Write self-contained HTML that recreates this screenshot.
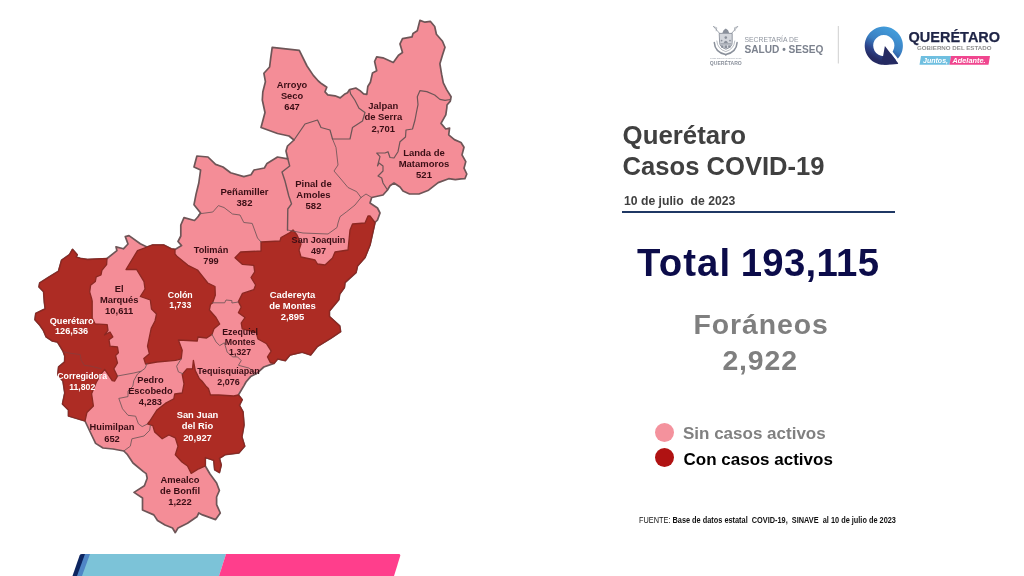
<!DOCTYPE html>
<html lang="es">
<head>
<meta charset="utf-8">
<title>Querétaro Casos COVID-19</title>
<style>
html,body{margin:0;padding:0;background:#fff;}
body{width:1024px;height:576px;position:relative;overflow:hidden;font-family:"Liberation Sans",Arial,sans-serif;}
.map{position:absolute;left:0;top:0;}
.abs{position:absolute;white-space:nowrap;line-height:1;}
.t1{left:622.6px;top:122.8px;font-size:25.8px;font-weight:bold;color:#404040;}
.t2{left:622.6px;top:154.2px;font-size:25.6px;font-weight:bold;color:#404040;}
.date{left:624px;top:195.4px;font-size:12.2px;font-weight:bold;color:#404040;}
.date i{display:inline-block;width:3.6px;}
.rule{position:absolute;left:622px;top:210.5px;width:273px;height:2px;background:#1f3864;}
.total{left:637px;top:244px;font-size:38.3px;font-weight:bold;color:#0c0c4a;word-spacing:-1.5px;letter-spacing:0.35px;}
.for1{left:693.6px;top:310.4px;font-size:28.4px;font-weight:bold;color:#7f7f7f;letter-spacing:0.9px;}
.for2{left:722.4px;top:346px;font-size:28.4px;font-weight:bold;color:#7f7f7f;letter-spacing:0.9px;}
.dot{position:absolute;width:19.4px;height:19.4px;border-radius:50%;}
.d1{left:655px;top:422.5px;background:#f4929d;}
.d2{left:655px;top:447.5px;background:#b01212;}
.l1{left:683px;top:424.5px;font-size:17px;font-weight:bold;color:#808080;}
.l2{left:683.6px;top:451px;font-size:17px;font-weight:bold;color:#000;}
.src{left:638.5px;top:516px;font-size:8.4px;font-weight:bold;color:#111;transform:scaleX(0.878);transform-origin:0 0;}
.src span{font-weight:normal;}
</style>
</head>
<body>
<svg class="map" width="1024" height="576" viewBox="0 0 1024 576">
<polygon points="272.2,47.3 299.3,50.4 307.0,66.0 313.3,75.4 318.3,81.0 321.7,83.8 326.8,87.2 325.0,91.8 327.8,94.8 335.0,95.8 340.2,97.9 344.4,94.3 347.5,92.7 349.6,89.6 355.8,88.0 360.0,90.6 363.6,93.8 366.8,94.3 367.8,86.5 370.4,82.3 372.5,72.9 376.7,70.8 374.6,61.5 376.7,56.8 382.9,57.8 393.3,62.5 398.5,55.2 402.5,52.5 400.0,43.9 402.5,38.6 412.0,36.9 413.0,33.4 417.3,30.8 419.9,20.4 425.0,22.2 430.3,21.3 434.7,26.5 436.4,34.3 442.5,41.2 445.0,47.3 442.5,55.1 439.9,63.8 441.6,74.2 443.3,82.9 446.8,89.9 451.1,96.8 450.3,101.1 447.0,105.0 446.8,108.0 445.8,114.8 441.0,123.4 445.8,129.0 449.6,128.0 448.7,134.8 454.4,139.6 461.0,142.5 464.0,147.2 462.0,154.9 465.8,161.6 464.0,168.2 466.8,174.0 464.9,178.7 461.0,178.9 455.3,179.7 448.7,178.7 438.2,182.6 428.6,190.2 419.0,194.0 409.5,194.0 403.0,191.0 400.0,187.0 394.0,183.0 390.0,185.8 387.5,190.0 383.0,195.0 371.7,197.5 370.0,203.0 377.5,208.0 380.0,213.0 377.5,220.0 375.0,222.5 370.0,245.0 365.0,257.5 357.5,266.0 356.0,272.5 345.0,282.5 344.4,287.5 339.7,294.0 338.8,299.7 329.4,311.0 329.4,316.6 339.7,326.0 340.6,331.6 331.2,338.0 317.2,346.6 310.6,355.0 302.2,352.2 290.0,355.0 285.3,360.6 277.8,358.8 274.0,363.4 263.8,367.0 256.2,373.8 250.6,376.6 246.0,382.0 244.0,385.6 238.4,395.0 242.2,399.7 239.4,405.3 243.0,411.9 244.0,425.0 241.9,436.9 244.7,446.2 239.0,452.8 225.0,454.7 219.4,458.4 221.2,465.0 219.4,472.5 214.7,469.7 213.8,460.3 205.3,457.5 205.3,466.0 210.0,474.0 216.6,483.0 219.4,490.5 216.6,497.0 216.6,504.6 220.3,513.0 215.6,519.6 202.5,514.9 198.8,513.0 196.9,516.8 187.5,523.3 178.0,528.0 175.3,532.7 172.5,528.0 165.0,525.0 157.5,520.5 153.8,514.9 142.5,510.0 142.5,498.0 134.0,492.4 144.4,485.8 147.2,478.3 146.2,473.6 143.4,471.6 133.0,463.0 127.5,454.7 123.8,451.0 113.0,449.0 103.0,448.0 95.6,443.4 91.6,435.0 85.0,421.0 68.5,416.0 68.5,410.0 62.5,404.0 64.8,393.0 63.0,381.0 57.8,375.0 58.6,367.0 64.6,362.0 64.8,356.0 63.0,351.0 57.5,342.0 52.0,340.8 46.2,336.9 43.4,330.3 39.7,325.0 35.0,319.7 35.8,313.4 45.2,308.8 44.4,302.5 43.6,291.6 39.0,286.9 39.7,283.0 48.3,277.5 58.5,271.2 61.6,260.3 69.4,254.8 72.5,249.4 77.2,254.8 76.0,257.0 80.3,258.3 87.4,259.5 107.0,258.5 116.9,250.6 116.0,246.9 123.4,248.8 128.0,244.0 125.3,236.6 129.0,235.6 140.3,243.8 147.0,247.0 152.5,245.0 163.8,245.0 171.2,248.8 175.0,249.4 181.6,245.6 178.0,241.5 180.8,236.0 180.8,225.0 184.0,217.6 194.5,220.5 197.8,217.0 200.6,213.0 194.0,204.7 196.0,194.4 198.8,183.0 200.6,170.0 194.0,167.0 196.9,156.0 208.0,157.0 215.6,164.4 223.0,167.0 230.6,172.8 243.8,176.6 251.0,174.7 254.0,170.0 264.4,168.0 267.0,163.4 277.5,157.0 287.8,158.8 286.0,151.0 287.5,146.0 294.0,140.0 289.0,136.0 277.5,133.5 261.0,127.5 265.0,112.5 262.3,100.0 262.8,92.0 265.4,81.7 263.9,73.3 269.6,67.0 270.6,58.8" fill="#f48d97" stroke="#6e5557" stroke-width="1.7" stroke-linejoin="round"/>
<polygon points="85.0,421.0 68.5,416.0 68.5,410.0 62.5,404.0 64.8,393.0 63.0,381.0 57.8,375.0 58.6,367.0 64.6,362.0 64.8,356.0 63.0,351.0 57.5,342.0 52.0,340.8 46.2,336.9 43.4,330.3 39.7,325.0 35.0,319.7 35.8,313.4 45.2,308.8 44.4,302.5 43.6,291.6 39.0,286.9 39.7,283.0 48.3,277.5 58.5,271.2 61.6,260.3 69.4,254.8 72.5,249.4 77.2,254.8 76.0,257.0 80.3,258.3 87.4,259.5 107.0,258.5 106.6,264.7 101.9,270.3 101.0,275.0 96.2,276.9 95.3,281.6 90.6,285.3 89.7,291.9 91.6,298.4 92.2,301.2 92.2,318.0 95.0,323.8 107.2,324.7 108.0,330.3 104.5,335.0 110.0,332.0 112.8,336.9 109.0,339.7 110.0,346.2 117.5,347.0 118.4,352.8 115.6,355.6 117.5,363.0 113.8,368.8 117.5,376.2 114.7,381.0 112.2,380.6 104.7,369.4 101.9,373.0 96.2,382.5 91.6,393.8 93.4,406.0 86.9,412.5" fill="#ad2c24" stroke="#8c2822" stroke-width="1.3" stroke-linejoin="round"/>
<polygon points="147.0,247.0 152.5,245.0 163.8,245.0 171.2,248.8 175.0,249.4 175.0,254.0 176.9,256.2 188.0,265.3 197.5,270.0 202.0,275.6 207.8,283.0 215.0,286.5 215.3,295.3 212.5,303.0 210.5,304.4 209.4,310.0 216.0,317.5 219.7,324.0 214.0,328.8 212.0,334.4 206.6,338.0 198.0,337.0 197.2,341.0 178.4,340.0 182.2,350.3 181.2,358.8 175.6,360.3 156.9,362.0 145.6,364.0 143.8,358.4 149.4,353.8 147.5,346.2 151.2,328.4 155.0,321.0 156.5,314.0 151.5,309.0 150.3,300.0 140.3,296.5 145.0,289.0 144.0,281.6 136.6,269.5 126.0,269.5 137.5,250.6" fill="#ad2c24" stroke="#8c2822" stroke-width="1.3" stroke-linejoin="round"/>
<polygon points="261.0,242.0 280.0,241.0 281.0,237.5 290.0,232.5 293.0,230.0 297.0,235.0 301.0,244.0 299.0,250.0 301.0,257.0 315.0,260.0 317.5,264.0 325.0,265.0 332.5,258.0 335.0,252.0 348.0,250.0 350.0,230.0 352.5,224.0 365.0,223.0 368.0,216.0 370.0,216.0 375.0,222.5 370.0,245.0 365.0,257.5 357.5,266.0 356.0,272.5 345.0,282.5 344.4,287.5 339.7,294.0 338.8,299.7 329.4,311.0 329.4,316.6 339.7,326.0 340.6,331.6 331.2,338.0 317.2,346.6 310.6,355.0 302.2,352.2 290.0,355.0 285.3,360.6 277.8,358.8 274.0,363.4 270.3,362.5 267.5,356.9 271.2,351.2 266.6,343.8 258.0,339.0 256.2,332.5 242.2,328.8 241.2,323.0 245.0,317.5 238.4,312.8 241.2,307.0 238.4,301.6 242.5,293.4 253.8,289.7 255.6,285.0 251.0,277.5 254.7,271.9 253.8,265.3 242.5,264.4 235.0,257.8 240.6,252.0 261.0,251.0" fill="#ad2c24" stroke="#8c2822" stroke-width="1.3" stroke-linejoin="round"/>
<polygon points="193.4,360.3 195.3,370.6 199.4,378.8 201.9,381.0 206.0,386.2 208.4,388.4 210.5,395.0 218.8,395.0 233.8,396.0 238.4,395.0 242.2,399.7 239.4,405.3 243.0,411.9 244.0,425.0 241.9,436.9 244.7,446.2 239.0,452.8 225.0,454.7 219.4,458.4 221.2,465.0 219.4,472.5 214.7,469.7 213.8,460.3 205.3,457.5 205.3,466.0 198.8,468.8 191.2,473.4 187.5,466.0 181.9,462.0 175.3,454.7 178.0,446.2 175.3,437.8 168.8,435.0 162.2,438.8 154.7,432.0 152.8,425.6 147.5,424.0 150.3,420.3 156.9,410.0 165.3,403.4 173.8,398.8 174.7,394.0 182.2,393.0 184.0,383.8 182.2,374.4 186.9,368.8 192.5,368.8" fill="#ad2c24" stroke="#8c2822" stroke-width="1.3" stroke-linejoin="round"/>
<polyline points="294.0,140.0 305.0,124.0 317.5,120.0 321.0,127.5 330.0,130.0 332.5,139.0" fill="none" stroke="#6e5557" stroke-width="1.2" stroke-linejoin="round" stroke-linecap="round"/>
<polyline points="332.5,139.0 350.0,139.0 352.5,127.5 362.5,121.0 365.0,112.5 359.0,108.3 354.8,100.0 350.6,93.8 349.6,89.6" fill="none" stroke="#6e5557" stroke-width="1.2" stroke-linejoin="round" stroke-linecap="round"/>
<polyline points="450.6,99.5 445.0,100.3 439.9,99.4 434.7,95.0 426.8,91.6 419.9,90.7 417.3,96.8 418.0,104.6 416.5,112.0 415.0,120.0 412.5,129.0 406.0,130.0 405.5,137.0 400.0,141.7 398.0,151.7 394.0,158.0 390.0,157.5 388.0,151.7 385.0,153.0 376.7,153.0 380.0,156.7 377.5,166.0 379.0,163.0 383.0,166.0 383.0,171.0 378.0,176.0 381.7,178.0 383.0,183.0 387.5,190.0" fill="none" stroke="#6e5557" stroke-width="1.2" stroke-linejoin="round" stroke-linecap="round"/>
<polyline points="332.5,139.0 336.0,147.5 338.0,165.0 334.0,171.0 340.0,178.0 348.0,187.5 356.7,191.7 361.0,197.5" fill="none" stroke="#6e5557" stroke-width="0.85" stroke-linejoin="round" stroke-linecap="round"/>
<polyline points="361.0,197.5 366.0,194.0 371.7,197.5" fill="none" stroke="#6e5557" stroke-width="0.85" stroke-linejoin="round" stroke-linecap="round"/>
<polyline points="361.0,197.5 355.0,205.0 346.7,211.7 340.0,216.7 338.0,223.0 337.0,227.5 328.0,234.0 303.0,233.0 287.5,230.0" fill="none" stroke="#6e5557" stroke-width="0.85" stroke-linejoin="round" stroke-linecap="round"/>
<polyline points="287.8,158.8 289.7,166.0 282.0,172.0 285.0,181.0 288.8,196.0 291.5,203.8 287.8,209.0 287.5,230.0" fill="none" stroke="#6e5557" stroke-width="1.4" stroke-linejoin="round" stroke-linecap="round"/>
<polyline points="197.8,217.0 199.4,213.8 212.8,212.0 218.4,205.6 224.0,207.5 232.5,214.0 240.0,215.0 243.8,222.5 252.2,223.4 257.5,238.0 261.0,242.0" fill="none" stroke="#6e5557" stroke-width="0.85" stroke-linejoin="round" stroke-linecap="round"/>
<polyline points="212.5,302.8 224.7,302.8 226.0,300.0 231.9,300.6 231.9,303.0 238.4,302.0" fill="none" stroke="#6e5557" stroke-width="0.85" stroke-linejoin="round" stroke-linecap="round"/>
<polyline points="212.0,334.4 216.0,341.9 219.7,345.6 224.4,342.8 227.2,352.2 232.8,356.9 237.5,356.9 241.2,360.6 238.4,365.3 248.8,368.0 256.2,373.8" fill="none" stroke="#6e5557" stroke-width="0.85" stroke-linejoin="round" stroke-linecap="round"/>
<polyline points="181.2,358.8 176.6,366.2 178.4,371.9 183.0,373.8" fill="none" stroke="#6e5557" stroke-width="0.85" stroke-linejoin="round" stroke-linecap="round"/>
<polyline points="117.5,376.0 133.8,373.0 141.2,371.2 145.0,368.4 146.9,363.8" fill="none" stroke="#6e5557" stroke-width="0.85" stroke-linejoin="round" stroke-linecap="round"/>
<polyline points="141.2,371.2 137.5,374.0 133.8,380.6 132.8,386.2 128.0,391.0 128.0,396.6 118.8,398.4 122.5,408.8 128.0,415.3 135.6,416.2 138.4,423.8 142.2,426.6 147.5,424.0" fill="none" stroke="#6e5557" stroke-width="0.85" stroke-linejoin="round" stroke-linecap="round"/>
<polyline points="150.3,425.6 149.7,430.3 144.0,436.0 131.9,438.8 130.3,446.2 123.8,451.0" fill="none" stroke="#6e5557" stroke-width="0.85" stroke-linejoin="round" stroke-linecap="round"/>
<polyline points="63.5,352.0 72.0,353.5 80.2,354.5 81.2,360.2 84.4,365.4 90.0,366.0 101.5,368.8" fill="none" stroke="#8d3a38" stroke-width="0.9" stroke-linejoin="round"/>
<g font-family="'Liberation Sans', Arial, sans-serif" font-weight="bold" font-size="9.3" text-anchor="middle">
<text x="292" y="87.50" fill="#3a0e15" font-size="9.3">Arroyo</text>
<text x="292" y="98.75" fill="#3a0e15" font-size="9.3">Seco</text>
<text x="292" y="110.00" fill="#3a0e15" font-size="9.3">647</text>
<text x="383.3" y="109.30" fill="#3a0e15" font-size="9.45">Jalpan</text>
<text x="383.3" y="120.40" fill="#3a0e15" font-size="9.45">de Serra</text>
<text x="383.3" y="131.50" fill="#3a0e15" font-size="9.45">2,701</text>
<text x="424" y="156.30" fill="#3a0e15" font-size="9.5">Landa de</text>
<text x="424" y="167.20" fill="#3a0e15" font-size="9.5">Matamoros</text>
<text x="424" y="178.10" fill="#3a0e15" font-size="9.5">521</text>
<text x="313.5" y="187.00" fill="#3a0e15" font-size="9.5">Pinal de</text>
<text x="313.5" y="198.10" fill="#3a0e15" font-size="9.5">Amoles</text>
<text x="313.5" y="209.20" fill="#3a0e15" font-size="9.5">582</text>
<text x="244.5" y="194.80" fill="#3a0e15" font-size="9.5">Peñamiller</text>
<text x="244.5" y="206.00" fill="#3a0e15" font-size="9.5">382</text>
<text x="318.5" y="243.00" fill="#3a0e15" font-size="9.05">San Joaquin</text>
<text x="318.5" y="253.50" fill="#3a0e15" font-size="9.05">497</text>
<text x="211" y="252.80" fill="#3a0e15" font-size="9.2">Tolimán</text>
<text x="211" y="263.50" fill="#3a0e15" font-size="9.2">799</text>
<text x="292.5" y="298.20" fill="#ffffff" font-size="9.45">Cadereyta</text>
<text x="292.5" y="309.25" fill="#ffffff" font-size="9.45">de Montes</text>
<text x="292.5" y="320.30" fill="#ffffff" font-size="9.45">2,895</text>
<text x="180.3" y="297.50" fill="#ffffff" font-size="8.8">Colón</text>
<text x="180.3" y="307.90" fill="#ffffff" font-size="8.8">1,733</text>
<text x="119.2" y="292.30" fill="#3a0e15" font-size="9.4">El</text>
<text x="119.2" y="303.35" fill="#3a0e15" font-size="9.4">Marqués</text>
<text x="119.2" y="314.40" fill="#3a0e15" font-size="9.4">10,611</text>
<text x="71.6" y="323.80" fill="#ffffff" font-size="9.2">Querétaro</text>
<text x="71.6" y="334.10" fill="#ffffff" font-size="9.2">126,536</text>
<text x="82.2" y="378.80" fill="#ffffff" font-size="8.7">Corregidora</text>
<text x="82.2" y="390.00" fill="#ffffff" font-size="8.7">11,802</text>
<text x="150.4" y="382.50" fill="#3a0e15" font-size="9.3">Pedro</text>
<text x="150.4" y="393.75" fill="#3a0e15" font-size="9.3">Escobedo</text>
<text x="150.4" y="405.00" fill="#3a0e15" font-size="9.3">4,283</text>
<text x="112" y="430.30" fill="#3a0e15" font-size="9.3">Huimilpan</text>
<text x="112" y="441.60" fill="#3a0e15" font-size="9.3">652</text>
<text x="197.5" y="418.00" fill="#ffffff" font-size="9.4">San Juan</text>
<text x="197.5" y="429.30" fill="#ffffff" font-size="9.4">del Rio</text>
<text x="197.5" y="440.60" fill="#ffffff" font-size="9.4">20,927</text>
<text x="240.1" y="335.00" fill="#3a0e15" font-size="8.8">Ezequiel</text>
<text x="240.1" y="345.00" fill="#3a0e15" font-size="8.8">Montes</text>
<text x="240.1" y="355.00" fill="#3a0e15" font-size="8.8">1,327</text>
<text x="228.5" y="374.30" fill="#3a0e15" font-size="8.95">Tequisquiapan</text>
<text x="228.5" y="385.00" fill="#3a0e15" font-size="8.95">2,076</text>
<text x="180" y="483.00" fill="#3a0e15" font-size="9.35">Amealco</text>
<text x="180" y="493.80" fill="#3a0e15" font-size="9.35">de Bonfil</text>
<text x="180" y="504.60" fill="#3a0e15" font-size="9.35">1,222</text>
</g>
</svg>
<svg class="map" width="1024" height="576" viewBox="0 0 1024 576">
  <defs>
    <linearGradient id="qg" x1="0.85" y1="0.15" x2="0.4" y2="1">
      <stop offset="0" stop-color="#429cda"/>
      <stop offset="0.45" stop-color="#3a7fc2"/>
      <stop offset="0.72" stop-color="#2c438a"/>
      <stop offset="0.92" stop-color="#252a62"/>
    </linearGradient>
  </defs>
  <!-- bottom bar -->
  <path d="M82 554 H87 L79 576 H72.5 L79.6 555.4 Q80.2 554 82 554 Z" fill="#0d2560"/>
  <polygon points="85,554 92,554 84,576 77,576" fill="#4f86c6"/>
  <polygon points="90,554 226,554 219,576 82,576" fill="#7cc3d8"/>
  <path d="M226 554 H398.6 Q400.8 554 400.2 556 L394 576 H219 Z" fill="#ff3e8c"/>
  <!-- crest -->
  <g stroke="#8a909b" fill="none" stroke-width="0.8" stroke-linecap="round">
    <path d="M713.6 26.6 L721.5 35.5 M737.6 26.6 L729.7 35.5"/>
    <path d="M713.6 26.6 l3.2 1.2 l-0.6 3 M737.6 26.6 l-3.2 1.2 l0.6 3" stroke-width="0.6"/>
    <path d="M719.6 33.4 h12.6 v9.2 q0 4.6 -6.3 6.6 q-6.3 -2 -6.3 -6.6 z" stroke-width="0.9" fill="#d3d6dc"/>
    <path d="M714.3 42.6 q0.6 9.6 11.4 12 q10.8 -2.4 11.4 -12" stroke-width="1.5"/>
    <path d="M716.8 41 q0.6 8 9 10.6 q8.4 -2.6 9 -10.6" stroke-width="0.6"/>
  </g>
  <g fill="#8a909b">
    <path d="M722.4 33 q0.6 -3.4 3.4 -4.6 q2.8 1.2 3.4 4.6 z"/>
    <circle cx="725.8" cy="37.6" r="1.3"/>
    <path d="M723.6 43 q2.2 -4.6 4.4 0 z"/>
    <rect x="720.6" y="43.4" width="10.6" height="1" />
    <rect x="721" y="45.4" width="2.4" height="2.2"/><rect x="724.6" y="45.4" width="2.4" height="2.6"/><rect x="728.2" y="45.4" width="2.4" height="2.2"/>
    <circle cx="721.6" cy="40.6" r="0.9"/><circle cx="730" cy="40.6" r="0.9"/>
    <circle cx="725.8" cy="54.8" r="0.9"/>
  </g>
  <text x="725.8" y="59.1" font-size="2.4" fill="#9aa0aa" text-anchor="middle" font-family="'Liberation Sans',sans-serif" textLength="31.5" lengthAdjust="spacingAndGlyphs">PODER EJECUTIVO DEL ESTADO DE</text>
  <text x="725.8" y="64.5" font-size="4.6" font-weight="bold" fill="#8b919c" text-anchor="middle" font-family="'Liberation Sans',sans-serif" textLength="32" lengthAdjust="spacingAndGlyphs">QUERÉTARO</text>
  <text x="744.5" y="42.3" font-size="7.6" fill="#8e949e" font-family="'Liberation Sans',sans-serif" textLength="54" lengthAdjust="spacingAndGlyphs">SECRETARÍA DE</text>
  <text x="744.5" y="53.3" font-size="11" font-weight="bold" fill="#7c828e" font-family="'Liberation Sans',sans-serif" textLength="79" lengthAdjust="spacingAndGlyphs">SALUD • SESEQ</text>
  <rect x="837.8" y="26" width="1" height="37.5" fill="#cfcfcf"/>
  <!-- Q logo -->
  <path fill-rule="evenodd" fill="url(#qg)" d="M883.8 26.6 a19.1 19.1 0 1 0 0.01 0 z M883.8 35 a10.6 10.6 0 1 1 -0.01 0 z"/>
  <line x1="886.2" y1="45.2" x2="901.4" y2="65.2" stroke="#fff" stroke-width="2.3"/>
  <path d="M884.9 46 L898 63 Q898.6 64 897.4 64.1 Q890 64.9 883.8 64.7 L881.5 60 L883.1 56 Z" fill="#252a62"/>
  <text x="908.6" y="41.6" font-size="14.2" font-weight="bold" fill="#1f2547" stroke="#1f2547" stroke-width="0.25" font-family="'Liberation Sans',sans-serif" textLength="91.5" lengthAdjust="spacingAndGlyphs">QUERÉTARO</text>
  <text x="917" y="50.2" font-size="5.8" font-weight="bold" fill="#8f8f8f" font-family="'Liberation Sans',sans-serif" textLength="74.5" lengthAdjust="spacingAndGlyphs">GOBIERNO DEL ESTADO</text>
  <polygon points="921,56 951,56 949.5,64.7 919.5,64.7" fill="#6fbfe0"/>
  <polygon points="951,56 990,56 988.5,64.7 949.5,64.7" fill="#f0468f"/>
  <text x="923" y="62.7" font-size="6.3" font-weight="bold" font-style="italic" fill="#fff" font-family="'Liberation Sans',sans-serif" textLength="25" lengthAdjust="spacingAndGlyphs">Juntos,</text>
  <text x="952.5" y="62.7" font-size="6.3" font-weight="bold" font-style="italic" fill="#fff" font-family="'Liberation Sans',sans-serif" textLength="33" lengthAdjust="spacingAndGlyphs">Adelante.</text>
</svg>
<div class="abs t1">Querétaro</div>
<div class="abs t2">Casos COVID-19</div>
<div class="abs date">10 de julio<i></i> de 2023</div>
<div class="rule"></div>
<div class="abs total"><span style="letter-spacing:1.1px">Total</span> 193,115</div>
<div class="abs for1">Foráneos</div>
<div class="abs for2">2,922</div>
<div class="dot d1"></div><div class="dot d2"></div>
<div class="abs l1">Sin casos activos</div>
<div class="abs l2">Con casos activos</div>
<div class="abs src"><span>FUENTE:</span> Base de datos estatal&nbsp; COVID-19,&nbsp; SINAVE&nbsp; al 10 de julio de 2023</div>
</body>
</html>
